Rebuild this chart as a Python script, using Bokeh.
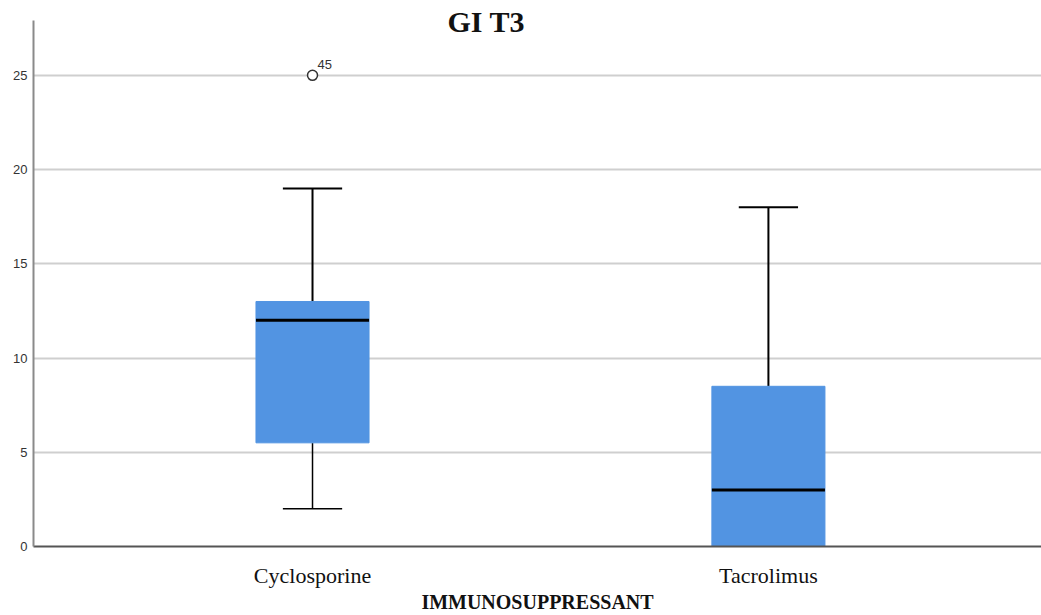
from bokeh.plotting import figure
from bokeh.models import Range1d, FixedTicker, Label, ColumnDataSource
from bokeh.core.properties import value
from bokeh.embed import file_html
from bokeh.resources import INLINE

categories = ["Cyclosporine", "Tacrolimus"]
whisker_low = [2, 0]
q1 = [5.5, 0]
median = [12, 3]
q3 = [13, 8.5]
whisker_high = [19, 18]
outlier_group = [0]
outlier_value = [25]
outlier_label = ["45"]
y_ticks = [0, 5, 10, 15, 20, 25]
axis_top = 27.9

pos = list(range(len(categories)))
box_w = 0.248
cap_w = 0.13

p = figure(width=1041, height=615, output_backend="svg", toolbar_location=None,
           x_range=Range1d(-0.612, 1.599), y_range=Range1d(0, 28.97),
           min_border_left=33, min_border_right=0, min_border_top=0, min_border_bottom=60)
p.outline_line_color = None
p.background_fill_color = "white"

# grid
p.xgrid.visible = False
p.ygrid.grid_line_color = "#cfcfcf"
p.ygrid.grid_line_width = 2
p.ygrid.ticker = FixedTicker(ticks=[t for t in y_ticks if t > 0])

# y axis
p.yaxis.ticker = FixedTicker(ticks=y_ticks)
p.yaxis.bounds = (0, axis_top)
p.yaxis.axis_line_color = "#8a8a8a"
p.yaxis.axis_line_width = 2
p.yaxis.major_tick_line_color = None
p.yaxis.major_tick_out = 0
p.yaxis.major_tick_in = 0
p.yaxis.minor_tick_line_color = None
p.yaxis.major_label_standoff = 6
p.yaxis.major_label_text_font = "Liberation Sans"
p.yaxis.major_label_text_font_size = "13px"
p.yaxis.major_label_text_color = "#333333"

# x axis
p.xaxis.ticker = FixedTicker(ticks=pos)
p.xaxis.major_label_overrides = {i: c for i, c in zip(pos, categories)}
p.xaxis.axis_line_color = "#555555"
p.xaxis.axis_line_width = 2
p.xaxis.major_tick_line_color = None
p.xaxis.major_tick_out = 0
p.xaxis.major_tick_in = 0
p.xaxis.minor_tick_line_color = None
p.xaxis.major_label_standoff = 16
p.xaxis.major_label_text_font = "Liberation Serif"
p.xaxis.major_label_text_font_size = "22px"
p.xaxis.major_label_text_color = "#111111"
p.xaxis.axis_label = "IMMUNOSUPPRESSANT"
p.xaxis.axis_label_text_font = "Liberation Serif"
p.xaxis.axis_label_text_font_style = "bold"
p.xaxis.axis_label_text_font_size = "20px"
p.xaxis.axis_label_text_color = "#111111"
p.xaxis.axis_label_standoff = 0

src = ColumnDataSource(dict(
    x=pos, low=whisker_low, q1=q1, med=median, q3=q3, high=whisker_high,
    x0=[x - box_w / 2 for x in pos], x1=[x + box_w / 2 for x in pos],
    c0=[x - cap_w / 2 for x in pos], c1=[x + cap_w / 2 for x in pos],
))

# whiskers (upper)
p.segment(x0="x", y0="q3", x1="x", y1="high", source=src, line_color="black", line_width=2)
p.segment(x0="c0", y0="high", x1="c1", y1="high", source=src, line_color="black", line_width=2)

# lower whiskers only where visible
lo_idx = [i for i in pos if whisker_low[i] < q1[i]]
lo_src = ColumnDataSource(dict(
    x=[pos[i] for i in lo_idx], low=[whisker_low[i] for i in lo_idx], q1=[q1[i] for i in lo_idx],
    c0=[pos[i] - cap_w / 2 for i in lo_idx], c1=[pos[i] + cap_w / 2 for i in lo_idx],
))
p.segment(x0="x", y0="low", x1="x", y1="q1", source=lo_src, line_color="black", line_width=1.5)
p.segment(x0="c0", y0="low", x1="c1", y1="low", source=lo_src, line_color="black", line_width=1.5)

# boxes
p.vbar(x="x", width=box_w, bottom="q1", top="q3", source=src,
       fill_color="#5294E2", line_color="#5294E2", line_width=1)
# medians
p.segment(x0="x0", y0="med", x1="x1", y1="med", source=src, line_color="black", line_width=3)

# outliers
osrc = ColumnDataSource(dict(x=outlier_group, y=outlier_value, t=outlier_label))
p.scatter(x="x", y="y", source=osrc, marker="circle", size=10, fill_color="white",
          line_color="#333333", line_width=1.5)
p.text(x="x", y="y", text="t", source=osrc, x_offset=5, y_offset=-6,
       text_font_size="13px", text_font=value("Liberation Sans"), text_color="#333333",
       text_baseline="bottom", text_align="left")

# title
title = Label(x=0.381, y=27.84, text="GI T3", text_font="Liberation Serif",
              text_font_style="bold", text_font_size="30px", text_align="center",
              text_baseline="middle", text_color="#111111")
p.add_layout(title)

open("out.html", "w").write(file_html(p, INLINE))
